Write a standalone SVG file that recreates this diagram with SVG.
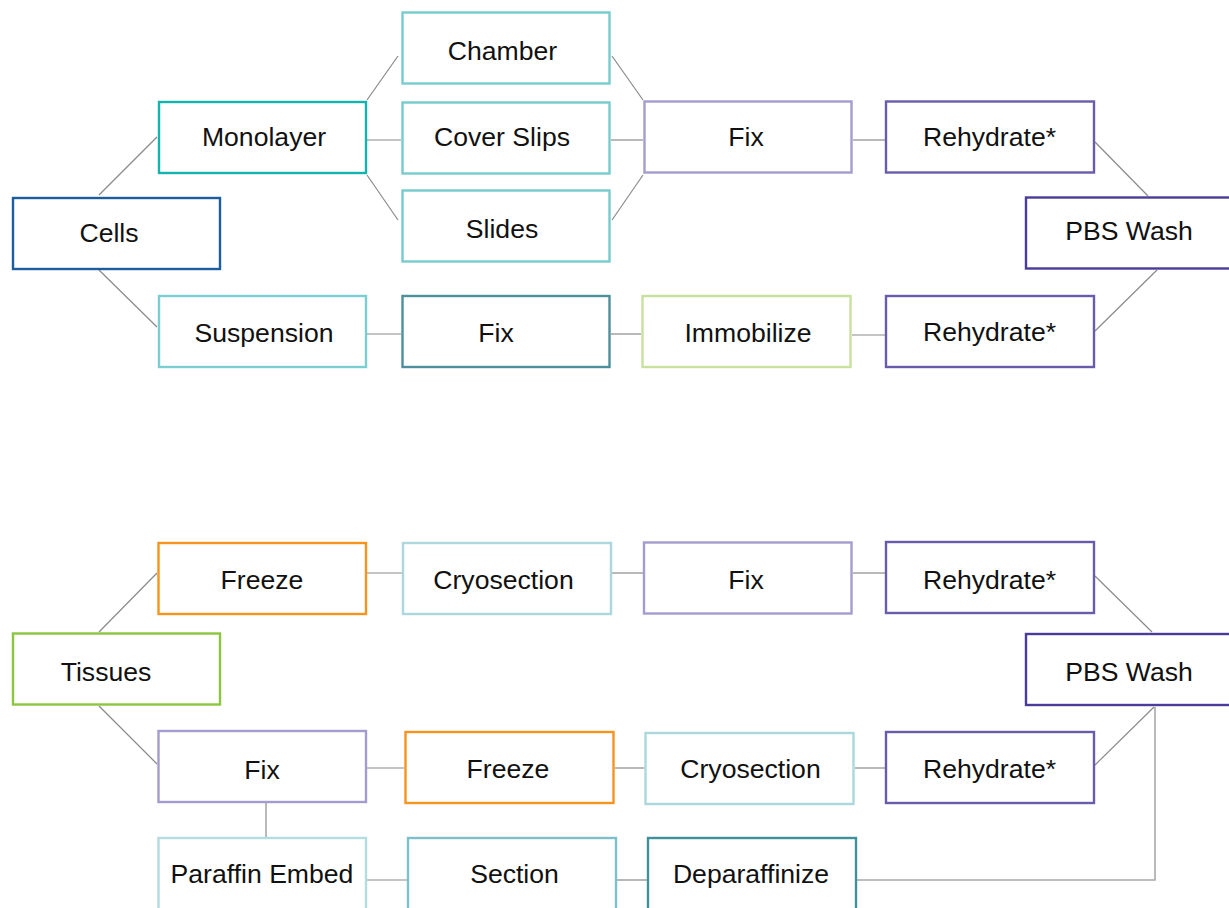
<svg xmlns="http://www.w3.org/2000/svg" width="1229" height="908" viewBox="0 0 1229 908">
<style>
.n rect{fill:#fff;stroke-width:2.4}
.n text{font-family:"Liberation Sans",Arial,sans-serif;font-size:26.6px;fill:#111;text-anchor:middle}
.c line,.c polyline{stroke:#8a8a8a;stroke-width:1.2;fill:none}
.c .g{stroke:#a8a8a8;stroke-width:1.6}
</style>
<rect width="1229" height="908" fill="#fff"/>
<g class="c" id="connectors">
<line x1="99" y1="195" x2="157" y2="137"/>
<line x1="99" y1="270" x2="157" y2="327"/>
<line x1="367" y1="100" x2="398" y2="56"/>
<line x1="367" y1="140" x2="401" y2="140"/>
<line x1="367" y1="175" x2="398" y2="220"/>
<line x1="612" y1="56" x2="643" y2="100"/>
<line x1="611" y1="140" x2="643" y2="140"/>
<line x1="612" y1="220" x2="643" y2="175"/>
<line x1="853" y1="140" x2="885" y2="140"/>
<line x1="1095" y1="142" x2="1148" y2="196"/>
<line x1="1095" y1="331" x2="1157" y2="270"/>
<line x1="367" y1="334" x2="401" y2="334"/>
<line x1="611" y1="334" x2="641" y2="334"/>
<line x1="852" y1="335" x2="885" y2="335"/>
<line x1="99" y1="632" x2="157" y2="573"/>
<line x1="99" y1="706" x2="157" y2="764"/>
<line x1="367" y1="573" x2="402" y2="573"/>
<line x1="612" y1="573" x2="643" y2="573"/>
<line x1="853" y1="573" x2="885" y2="573"/>
<line x1="1095" y1="576" x2="1152" y2="632"/>
<line x1="1095" y1="765" x2="1154" y2="707"/>
<line x1="266" y1="803" x2="266" y2="837"/>
<line x1="367" y1="768" x2="404" y2="768"/>
<line x1="615" y1="768" x2="644" y2="768"/>
<line x1="855" y1="768" x2="885" y2="768"/>
<line x1="367" y1="880" x2="407" y2="880"/>
<line x1="617" y1="880" x2="647" y2="880"/>
<polyline class="g" points="857,880 1155,880 1155,707"/>
</g>
<g class="n" id="cells"><rect x="13" y="198" width="207" height="71" stroke="#1b5e9e"/><text x="109" y="242">Cells</text></g>
<g class="n" id="monolayer"><rect x="159" y="102" width="207" height="71" stroke="#14b3ad"/><text x="264" y="146">Monolayer</text></g>
<g class="n" id="suspension"><rect x="159" y="296" width="207" height="71" stroke="#7acdd0"/><text x="264" y="342">Suspension</text></g>
<g class="n" id="chamber"><rect x="402.5" y="12.5" width="207" height="71" stroke="#77cbcd"/><text x="502.5" y="60">Chamber</text></g>
<g class="n" id="coverslips"><rect x="402.5" y="102.5" width="207" height="71" stroke="#77cbcd"/><text x="502" y="146">Cover Slips</text></g>
<g class="n" id="slides"><rect x="402.5" y="190.5" width="207" height="71" stroke="#77cbcd"/><text x="502" y="238">Slides</text></g>
<g class="n" id="fix1"><rect x="644.5" y="101.5" width="207" height="71" stroke="#a49cce"/><text x="746" y="146">Fix</text></g>
<g class="n" id="fix2"><rect x="402.5" y="296" width="207" height="71" stroke="#4d8f9b"/><text x="496" y="342">Fix</text></g>
<g class="n" id="immobilize"><rect x="642.5" y="296" width="208" height="71" stroke="#c8e29e"/><text x="748" y="342">Immobilize</text></g>
<g class="n" id="rehydrate1"><rect x="886" y="101.5" width="208" height="71" stroke="#6b5bab"/><text x="989.5" y="146">Rehydrate*</text></g>
<g class="n" id="rehydrate2"><rect x="886" y="296" width="208" height="71" stroke="#6b5bab"/><text x="989.5" y="341">Rehydrate*</text></g>
<g class="n" id="pbs1"><rect x="1026" y="197.5" width="208" height="71" stroke="#4c3b99"/><text x="1129" y="240">PBS Wash</text></g>
<g class="n" id="tissues"><rect x="13" y="633.5" width="207" height="71" stroke="#8cc63f"/><text x="106" y="681">Tissues</text></g>
<g class="n" id="freeze1"><rect x="158.5" y="543" width="207.5" height="71" stroke="#f7941d"/><text x="262" y="589">Freeze</text></g>
<g class="n" id="cryo1"><rect x="403" y="543" width="208" height="71" stroke="#acd8dd"/><text x="503.5" y="589">Cryosection</text></g>
<g class="n" id="fix3"><rect x="644" y="542.5" width="207.5" height="71" stroke="#a49cce"/><text x="746" y="589">Fix</text></g>
<g class="n" id="rehydrate3"><rect x="886" y="542" width="208" height="71" stroke="#6b5bab"/><text x="989.5" y="589">Rehydrate*</text></g>
<g class="n" id="pbs2"><rect x="1026" y="634" width="208" height="71" stroke="#4c3b99"/><text x="1129" y="681">PBS Wash</text></g>
<g class="n" id="fix4"><rect x="158.5" y="731" width="207.5" height="71" stroke="#a49cce"/><text x="262" y="779">Fix</text></g>
<g class="n" id="freeze2"><rect x="405.5" y="732" width="208" height="71" stroke="#f7941d"/><text x="508" y="778">Freeze</text></g>
<g class="n" id="cryo2"><rect x="645.5" y="733" width="208" height="71" stroke="#acd8dd"/><text x="750.5" y="778">Cryosection</text></g>
<g class="n" id="rehydrate4"><rect x="886" y="732" width="208" height="71" stroke="#6b5bab"/><text x="989.5" y="778">Rehydrate*</text></g>
<g class="n" id="paraffin"><rect x="158.5" y="838" width="207.5" height="80" stroke="#b3dbe0"/><text x="262" y="883">Paraffin Embed</text></g>
<g class="n" id="section"><rect x="408" y="838" width="208" height="80" stroke="#7fbfc9"/><text x="514.5" y="883">Section</text></g>
<g class="n" id="deparaffinize"><rect x="648" y="838" width="208" height="80" stroke="#3e9099"/><text x="751" y="883">Deparaffinize</text></g>
</svg>
